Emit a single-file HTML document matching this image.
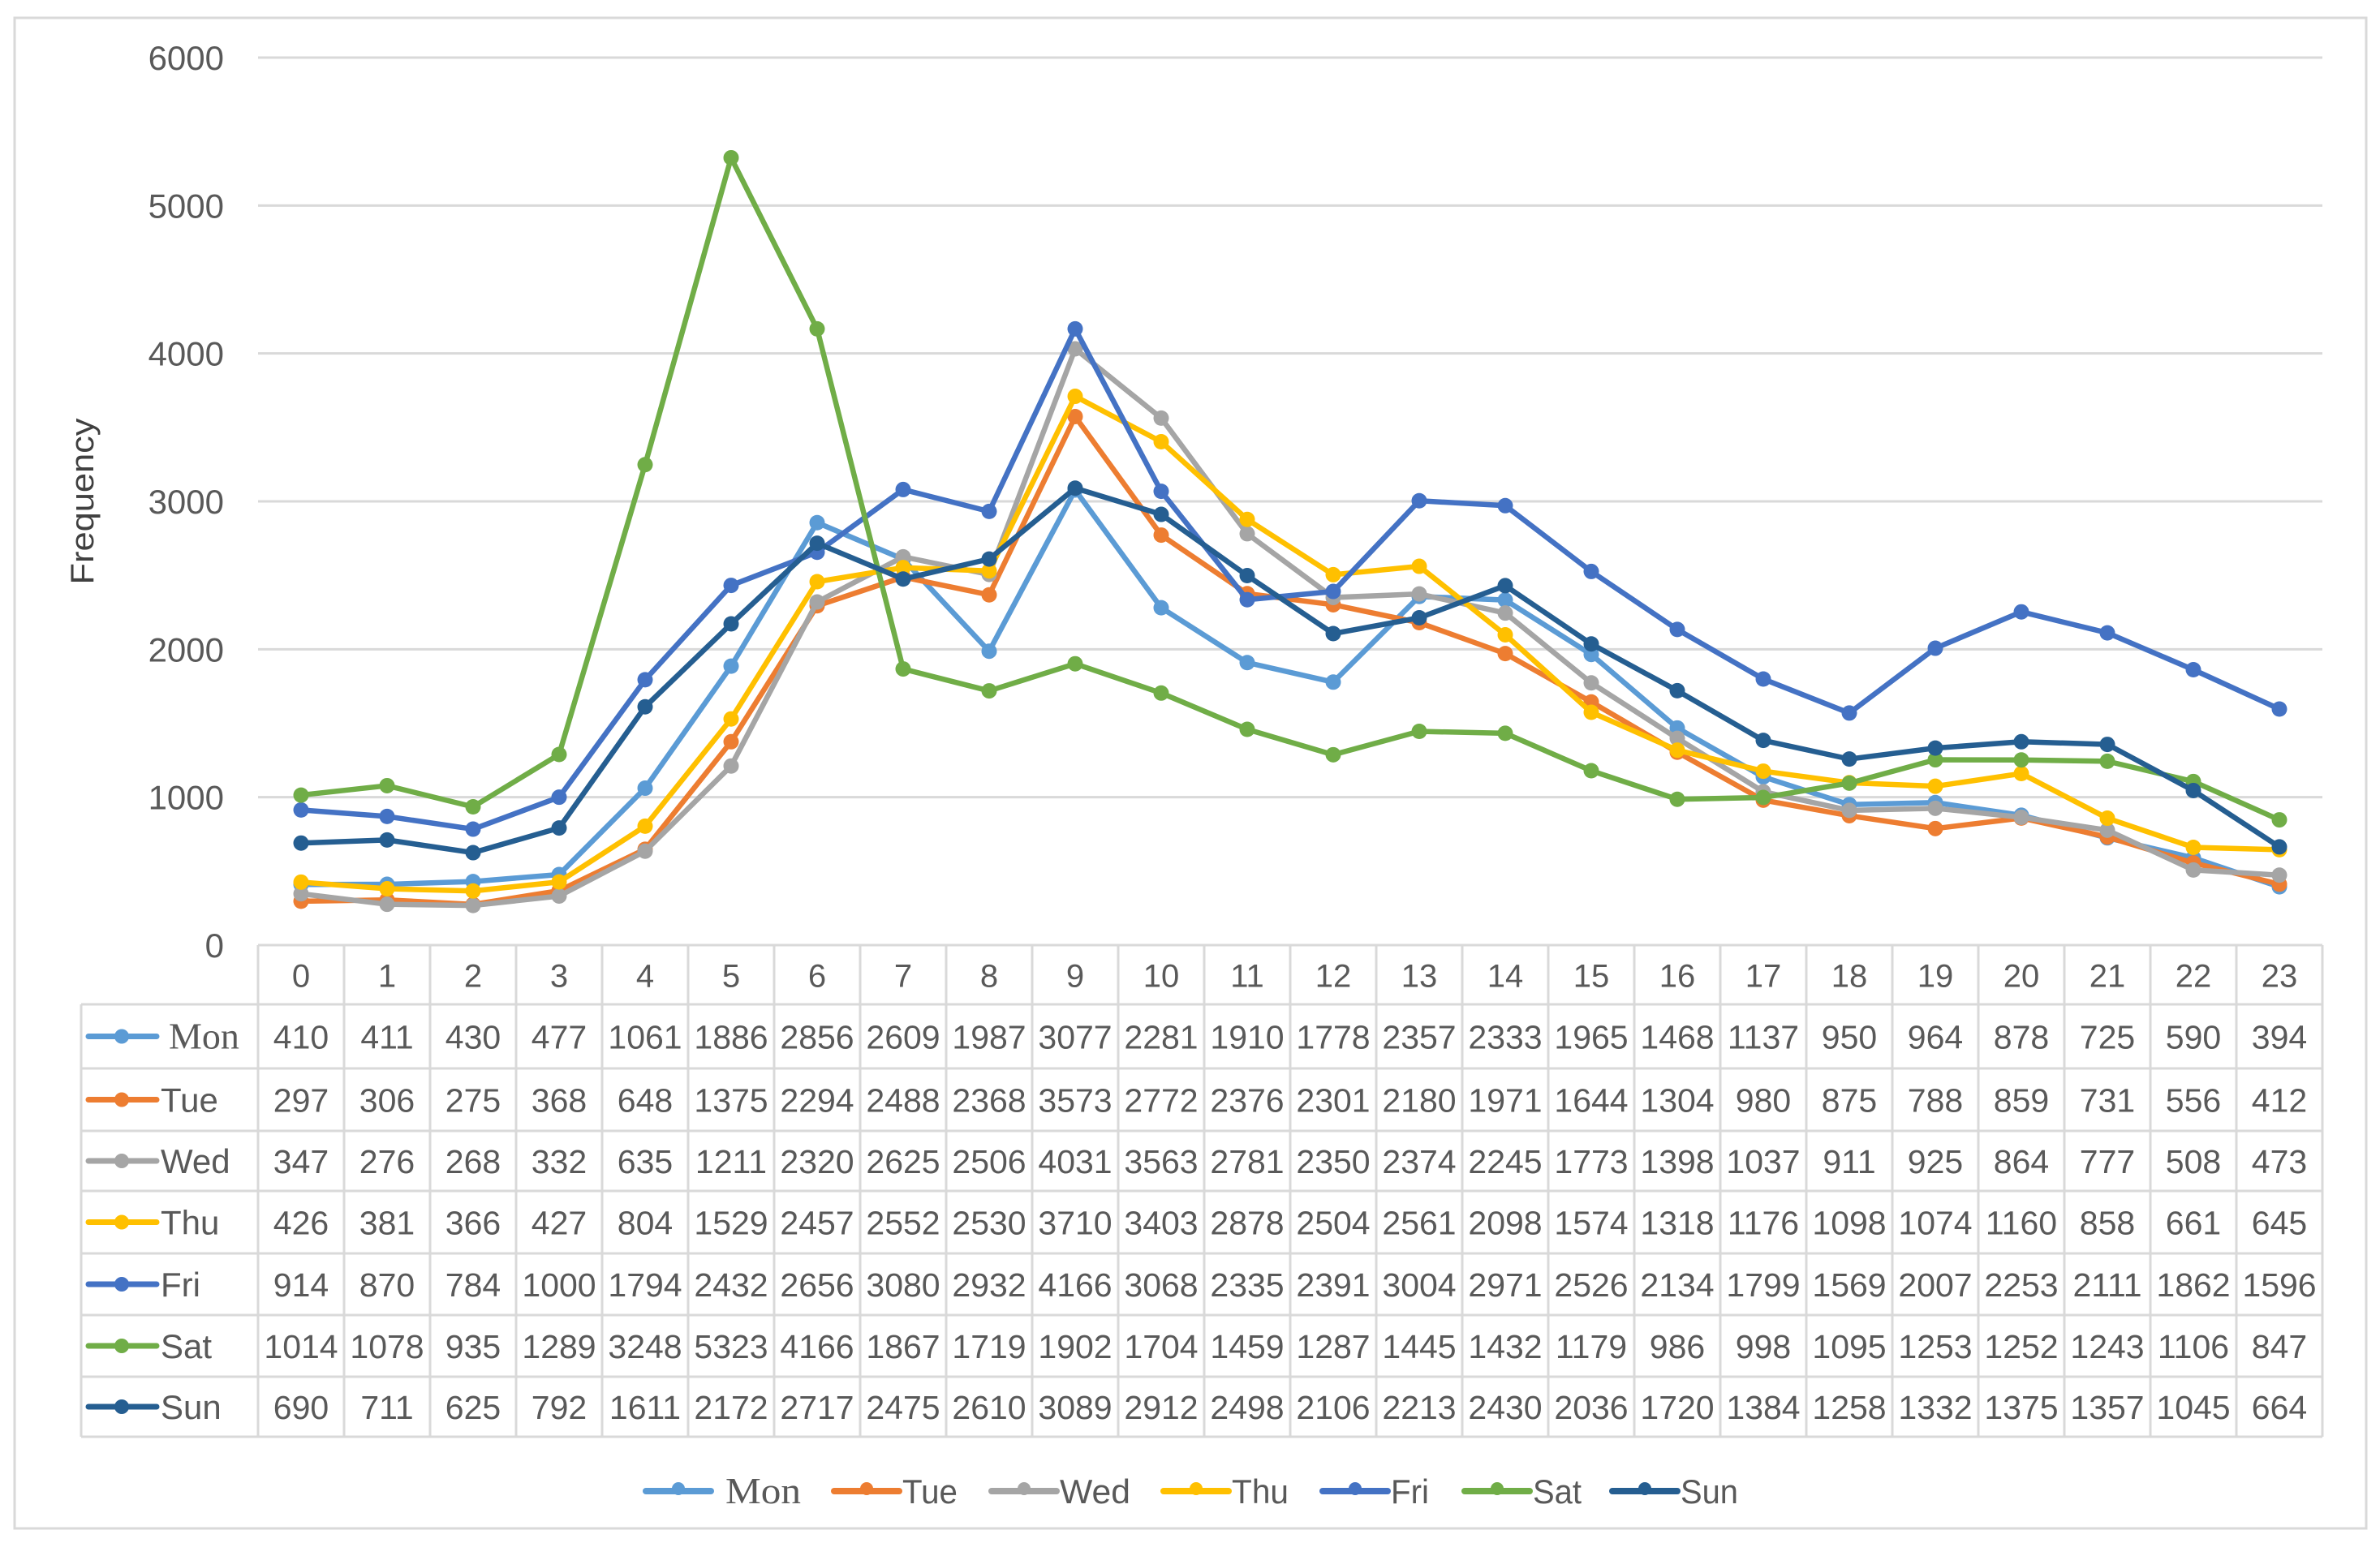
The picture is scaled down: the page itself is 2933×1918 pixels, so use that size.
<!DOCTYPE html>
<html><head><meta charset="utf-8"><style>
html,body{margin:0;padding:0;background:#fff;}
svg{display:block;font-family:"Liberation Sans",sans-serif;}
</style></head><body>
<svg id="chart" width="2933" height="1918" viewBox="0 0 2933 1918" xmlns="http://www.w3.org/2000/svg">
<rect x="18" y="22" width="2898" height="1862" fill="#fff" stroke="#d9d9d9" stroke-width="3"/>
<text transform="translate(115,618) rotate(-90)" text-anchor="middle" font-size="40" fill="#404040" textLength="205" lengthAdjust="spacingAndGlyphs">Frequency</text>
<g id="grid"></g><g id="series"></g><g id="table"></g><g id="legend"></g>
</svg>
<script>
const hours = ['0','1','2','3','4','5','6','7','8','9','10','11','12','13','14','15','16','17','18','19','20','21','22','23'];
const yTicks = [0,1000,2000,3000,4000,5000,6000];
const seriesNames = ['Mon','Tue','Wed','Thu','Fri','Sat','Sun'];
const mon = [410,411,430,477,1061,1886,2856,2609,1987,3077,2281,1910,1778,2357,2333,1965,1468,1137,950,964,878,725,590,394];
const tue = [297,306,275,368,648,1375,2294,2488,2368,3573,2772,2376,2301,2180,1971,1644,1304,980,875,788,859,731,556,412];
const wed = [347,276,268,332,635,1211,2320,2625,2506,4031,3563,2781,2350,2374,2245,1773,1398,1037,911,925,864,777,508,473];
const thu = [426,381,366,427,804,1529,2457,2552,2530,3710,3403,2878,2504,2561,2098,1574,1318,1176,1098,1074,1160,858,661,645];
const fri = [914,870,784,1000,1794,2432,2656,3080,2932,4166,3068,2335,2391,3004,2971,2526,2134,1799,1569,2007,2253,2111,1862,1596];
const sat = [1014,1078,935,1289,3248,5323,4166,1867,1719,1902,1704,1459,1287,1445,1432,1179,986,998,1095,1253,1252,1243,1106,847];
const sun = [690,711,625,792,1611,2172,2717,2475,2610,3089,2912,2498,2106,2213,2430,2036,1720,1384,1258,1332,1375,1357,1045,664];
const allSeries = [mon,tue,wed,thu,fri,sat,sun];
const colors = ['#5B9BD5','#ED7D31','#A5A5A5','#FFC000','#4472C4','#70AD47','#255E91'];

const NS='http://www.w3.org/2000/svg';
const X0=318, COLW=106, Y0=1165, Y1=71, YMAX=6000;
function xPos(i){return X0+COLW*(i+0.5);}
function yPos(v){return Y0-(v/YMAX)*(Y0-Y1);}
function mk(tag,attrs,parent){const e=document.createElementNS(NS,tag);for(const k in attrs)e.setAttribute(k,attrs[k]);parent.appendChild(e);return e;}
const grid=document.getElementById('grid'), ser=document.getElementById('series'), tab=document.getElementById('table'), leg=document.getElementById('legend');

yTicks.forEach(t=>{
  if(t>0){const l=mk('line',{x1:X0,x2:X0+COLW*24,y1:yPos(t),y2:yPos(t),stroke:'#d9d9d9','stroke-width':3},grid);
  
  }
  const tx=mk('text',{x:276,y:yPos(t)+15,'text-anchor':'end','font-size':42,fill:'#595959'},grid);
  tx.textContent=t;
  
  
});

allSeries.forEach((vals,s)=>{
  const g=mk('g',{},ser);
  
  
  const pl=mk('polyline',{points:vals.map((v,i)=>xPos(i)+','+yPos(v)).join(' '),fill:'none',stroke:colors[s],'stroke-width':6.5,'stroke-linejoin':'round'},g);
  
  
  vals.forEach((v,i)=>{
    const c=mk('circle',{cx:xPos(i),cy:yPos(v),r:9.5,fill:colors[s]},g);
    
    
  });
});

// table
const rowY=[1165,1238,1317,1394,1468,1545,1621,1697,1771];
const TL=100, TR=X0+COLW*24, bc='#d9d9d9';
mk('line',{x1:X0,x2:TR,y1:rowY[0],y2:rowY[0],stroke:bc,'stroke-width':3},tab);
for(let r=1;r<rowY.length;r++) mk('line',{x1:TL,x2:TR,y1:rowY[r],y2:rowY[r],stroke:bc,'stroke-width':3},tab);
for(let c=0;c<=24;c++) mk('line',{x1:X0+COLW*c,x2:X0+COLW*c,y1:rowY[0],y2:rowY[8],stroke:bc,'stroke-width':3},tab);
mk('line',{x1:TL,x2:TL,y1:rowY[1],y2:rowY[8],stroke:bc,'stroke-width':3},tab);
hours.forEach((h,i)=>{
  const t=mk('text',{x:xPos(i),y:(rowY[0]+rowY[1])/2+15,'text-anchor':'middle','font-size':40,fill:'#595959'},tab);
  t.textContent=h;
  
  
});
allSeries.forEach((vals,s)=>{
  const cy=(rowY[s+1]+rowY[s+2])/2;
  mk('line',{x1:109,x2:193,y1:cy,y2:cy,stroke:colors[s],'stroke-width':7,'stroke-linecap':'round'},tab);
  mk('circle',{cx:150,cy:cy,r:9,fill:colors[s]},tab);
  const lab=mk('text',{x:s===0?208:198,y:cy+15,'font-size':s===0?46:42,fill:'#595959','font-family':s===0?'"Liberation Serif",serif':'"Liberation Sans",sans-serif'},tab);
  lab.textContent=seriesNames[s];
  
  
  vals.forEach((v,i)=>{
    const t=mk('text',{x:xPos(i),y:cy+15,'text-anchor':'middle','font-size':41,fill:'#595959'},tab);
    t.textContent=v;
    
    
  });
});

// legend
const legX=[796,1028,1222,1434,1630,1805,1987];
const legW=[93,68,87,70,47,60,71];
seriesNames.forEach((n,s)=>{
  const g=mk('g',{},leg);
  
  
  const cy=1838;
  mk('line',{x1:legX[s],x2:legX[s]+80,y1:cy,y2:cy,stroke:colors[s],'stroke-width':8,'stroke-linecap':'round'},g);
  mk('circle',{cx:legX[s]+40,cy:cy-3,r:8,fill:colors[s]},g);
  const t=mk('text',{x:legX[s]+(s===0?98:84),y:cy+15,'font-size':s===0?46:42,fill:'#595959',textLength:legW[s],lengthAdjust:'spacingAndGlyphs','font-family':s===0?'"Liberation Serif",serif':'"Liberation Sans",sans-serif'},g);
  t.textContent=n;
});
</script>
</body></html>
